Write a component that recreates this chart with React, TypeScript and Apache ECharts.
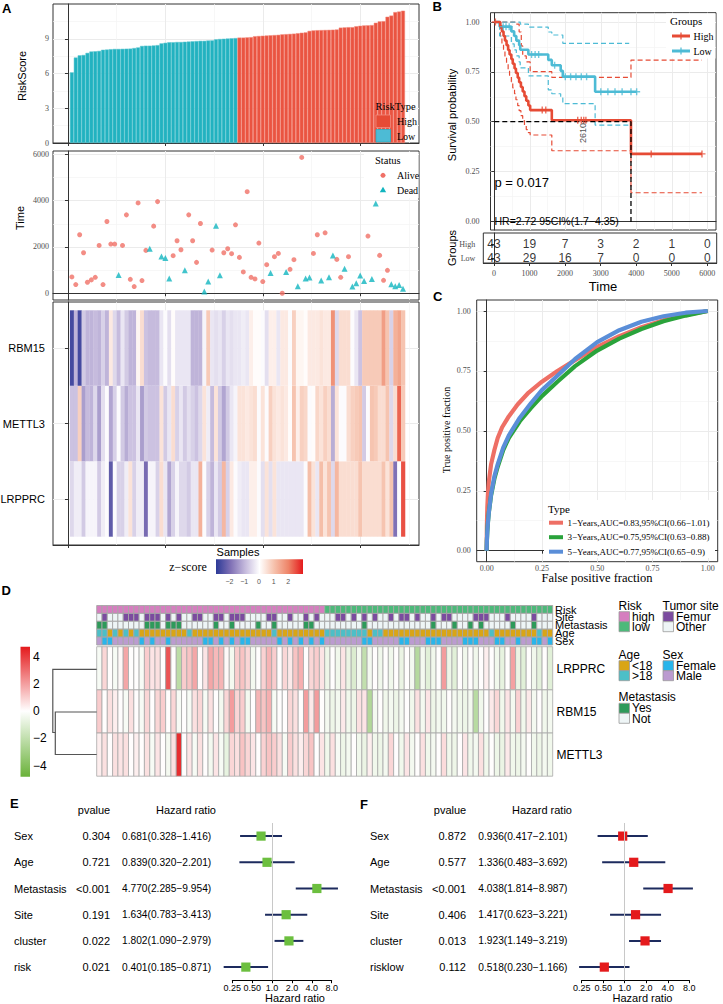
import React, { useEffect, useRef } from 'react';
import * as echarts from 'echarts';

const SERIF = 'Liberation Serif';
const SANS = 'Liberation Sans';

// ---------------- Panel A data ----------------
const lowRiskScores = [6.1, 7.38, 7.57, 7.6, 7.78, 7.9, 7.92, 7.95, 8.05, 8.07, 8.1, 8.12, 8.12, 8.13, 8.14, 8.15, 8.2, 8.25, 8.38, 8.4, 8.4, 8.42, 8.45, 8.6, 8.65, 8.7, 8.7, 8.72, 8.72, 8.74, 8.76, 8.78, 8.8, 8.82, 8.82, 8.85, 8.86, 8.95, 8.98, 9.0, 9.02, 9.04, 9.06];
const highRiskScores = [9.1, 9.1, 9.12, 9.14, 9.22, 9.24, 9.26, 9.28, 9.3, 9.32, 9.34, 9.38, 9.4, 9.42, 9.44, 9.48, 9.52, 9.55, 9.68, 9.72, 9.74, 9.75, 9.76, 9.77, 9.78, 9.8, 9.96, 9.98, 10.0, 10.0, 10.08, 10.12, 10.15, 10.16, 10.18, 10.38, 10.5, 10.52, 10.9, 11.0, 11.3, 11.35, 11.42];
const survivalTimes = [705, 374, 2524, 1750, 473, 576, 688, 2064, 374, 3096, 2124, 2124, 791, 2064, 3384, 602, 288, 3900, 546, 1850, 1922, 2898, 3956, 1591, 1522, 632, 1621, 2266, 1879, 989, 3384, 2266, 1333, 3010, 73, 503, 1865, 2911, 774, 1750, 1922, 1707, 2954, 1548, 920, 4386, 688, 619, 2167, 503, 1234, 877, 1578, 1720, 0, 920, 1032, 1449, 301, 5865, 632, 675, 1720, 2524, 546, 2610, 688, 1634, 1462, 688, 1062, 1578, 288, 430, 761, 533, 2468, 619, 3870, 1634, 559, 989, 387, 301, 361, 189];
const deadSamples = [13, 21, 24, 25, 26, 30, 35, 36, 38, 39, 52, 56, 59, 61, 62, 65, 67, 68, 71, 73, 74, 75, 76, 78, 79, 83, 84, 85, 86];
const heatGenesA = ['LRPPRC', 'METTL3', 'RBM15'];
const lrpprcA = [-0.5, -0.2, -0.2, -0.7, -0.1, -0.1, -0.1, -0.7, -0.2, 0.0, -2.3, 0.0, -0.6, -0.6, -0.2, 0.5, -0.6, -0.2, -0.2, -2.0, -0.1, -0.1, -0.6, 0.6, -0.3, -1.2, -0.6, -0.1, -0.5, -0.5, -0.7, -0.3, -0.3, 1.3, 0.0, -0.6, -1.0, -0.3, -0.7, 1.2, -0.6, 0.4, 0.0, -0.2, -0.3, -0.3, 0.3, 0.3, 0.0, -0.4, 0.5, -0.4, 0.5, -0.3, -0.3, -0.3, -0.3, -0.3, -0.3, -0.3, 0.0, 1.1, 0.5, -0.3, 1.1, 0.5, 1.0, -0.5, 1.2, 0.6, 0.6, 0.6, 0.6, 0.6, 1.0, 0.6, 0.6, 0.6, 0.6, 0.6, 1.0, 0.5, 1.0, -1.9, 0.0, 2.5];
const mettl3A = [-0.8, -0.8, 0.8, -1.3, -0.9, -1.0, -0.5, -1.3, -0.4, 0.0, -1.2, -0.6, 0.0, -0.7, -1.1, -0.8, -0.8, -0.3, -1.3, -0.7, -0.8, -0.8, -0.8, 0.5, -0.7, -0.3, 0.6, -0.6, -0.3, -0.7, -0.4, -0.6, -0.8, -0.5, 0.5, -0.2, -0.9, 0.5, -0.7, -1.2, -0.7, -0.3, -0.1, 0.5, 0.5, 0.4, 0.5, 0.6, 0.0, 0.5, 0.0, 0.8, 0.5, 0.4, 0.5, 0.4, 0.1, 1.0, 0.3, 0.8, 0.7, 0.0, 0.1, 0.7, 0.5, 0.8, 0.6, -1.1, 0.5, 0.0, 0.0, 0.6, 0.8, 0.9, 1.0, -0.7, 0.0, 1.0, 0.9, 0.6, 0.6, 1.0, -0.5, 0.6, 2.3, 0.9];
const rbm15A = [-2.6, -1.0, -2.6, -0.7, -1.0, -1.0, -0.9, -1.0, -0.6, -1.0, 0.4, -0.5, -0.9, -0.3, -0.7, -1.0, -1.0, 0.2, 0.6, -0.8, -0.9, -0.9, -0.9, -0.3, 0.0, -0.4, 0.1, -0.3, -0.3, -0.3, -0.3, -1.0, -1.0, -1.0, -0.1, 0.9, -0.3, -0.4, -0.3, -0.6, -0.3, -0.4, -0.3, -0.3, -0.2, -0.3, 0.3, 0.1, 0.1, 0.0, -0.4, 0.3, 0.3, -0.3, 0.4, 0.4, 0.0, 0.8, 0.2, 0.2, 0.1, 0.4, 0.4, 0.4, 0.5, 0.4, 0.4, 1.8, -0.5, 0.6, 0.6, 0.6, 0.0, -0.3, -0.8, 0.9, 0.9, 0.9, 0.9, 0.9, 1.6, 1.0, -0.6, 1.3, 1.5, 1.0];
const sampleTicks = [0, 25, 50, 75];
const sampleMinor = [12.5, 37.5, 62.5, 87.5];
const riskTicks = [0, 3, 6, 9];
const riskMinor = [1.5, 4.5, 7.5, 10.5];
const timeTicks = [0, 2000, 4000, 6000];
const timeMinor = [1000, 3000, 5000];
const zTickLabels = ['−2', '−1', '0', '1', '2'];
const zColorsA = ['#2C3A97', '#7F70B5', '#C4B9DC', '#FFFFFF', '#F6C2AD', '#EE8468', '#E41A1C'];

// ---------------- Panel B data ----------------
const highT = [0, 170, 215, 260, 300, 345, 390, 430, 480, 520, 570, 610, 660, 700, 750, 800, 850, 900, 960, 1010, 1620, 3850, 5850];
const highS = [1, 0.977, 0.953, 0.93, 0.907, 0.884, 0.86, 0.837, 0.814, 0.791, 0.767, 0.744, 0.721, 0.698, 0.674, 0.651, 0.628, 0.605, 0.581, 0.558, 0.507, 0.338, 0.338];
const highLower = [1, 0.93, 0.89, 0.86, 0.82, 0.79, 0.76, 0.73, 0.7, 0.67, 0.64, 0.61, 0.58, 0.555, 0.53, 0.505, 0.48, 0.46, 0.445, 0.433, 0.354, 0.143, 0.143];
const highUpT = [0, 600, 700, 760, 800, 900, 1010, 1620, 3850, 5850];
const highUpS = [1, 0.99, 0.95, 0.88, 0.83, 0.8, 0.751, 0.722, 0.809, 0.809];
const lowT = [0, 150, 480, 560, 620, 700, 730, 960, 1520, 1620, 1870, 1930, 2840, 4010];
const lowS = [1, 0.977, 0.953, 0.93, 0.907, 0.884, 0.861, 0.837, 0.81, 0.783, 0.755, 0.726, 0.65, 0.65];
const lowLoT = [0, 150, 480, 560, 620, 700, 730, 960, 1520, 1620, 1870, 1930, 2840, 3820];
const lowLoS = [1, 0.93, 0.89, 0.86, 0.83, 0.8, 0.77, 0.73, 0.66, 0.64, 0.62, 0.59, 0.483, 0.483];
const lowUpT = [0, 730, 960, 1520, 1620, 1930, 3800];
const lowUpS = [1, 0.99, 0.975, 0.95, 0.935, 0.893, 0.893];
const highCensor = [[30, 1], [1350, 0.558], [1450, 0.558], [2350, 0.507], [2450, 0.507], [2520, 0.507], [2580, 0.507], [4420, 0.338], [5850, 0.338]];
const lowCensor = [[250, 0.977], [330, 0.977], [420, 0.977], [1050, 0.837], [1150, 0.837], [1250, 0.837], [1700, 0.783], [2000, 0.726], [2150, 0.726], [2300, 0.726], [2450, 0.726], [2600, 0.726], [3000, 0.65], [3200, 0.65], [3400, 0.65], [3600, 0.65], [3850, 0.65], [4010, 0.65]];
const medianPath = [[0, 0.5], [3850, 0.5], [3850, -0.007]];
const kmTicks = [0, 1000, 2000, 3000, 4000, 5000, 6000];
const kmMinor = [500, 1500, 2500, 3500, 4500, 5500];
const survTicks = [0, 0.25, 0.5, 0.75, 1];
const survMinor = [0.125, 0.375, 0.625, 0.875];
const atRiskHigh = [43, 19, 7, 3, 2, 1, 0];
const atRiskLow = [43, 29, 16, 7, 0, 0, 0];

// ---------------- Panel C data ----------------
const roc1 = [[0, 0], [0.001, 0.1], [0.003, 0.18], [0.006, 0.24], [0.01, 0.29], [0.02, 0.36], [0.035, 0.42], [0.05, 0.47], [0.07, 0.515], [0.1, 0.56], [0.14, 0.61], [0.19, 0.66], [0.25, 0.705], [0.32, 0.75], [0.4, 0.795], [0.5, 0.85], [0.6, 0.895], [0.7, 0.932], [0.8, 0.962], [0.9, 0.984], [1, 1]];
const roc3 = [[0, 0], [0.001, 0.04], [0.003, 0.08], [0.006, 0.12], [0.01, 0.16], [0.02, 0.23], [0.035, 0.3], [0.05, 0.35], [0.075, 0.42], [0.1, 0.47], [0.15, 0.54], [0.2, 0.595], [0.25, 0.645], [0.32, 0.705], [0.4, 0.77], [0.5, 0.835], [0.6, 0.885], [0.7, 0.925], [0.8, 0.957], [0.9, 0.981], [1, 1]];
const roc5 = [[0, 0], [0.001, 0.04], [0.003, 0.08], [0.006, 0.12], [0.01, 0.16], [0.02, 0.235], [0.035, 0.31], [0.05, 0.36], [0.075, 0.43], [0.1, 0.48], [0.15, 0.555], [0.2, 0.615], [0.25, 0.67], [0.32, 0.73], [0.4, 0.8], [0.5, 0.87], [0.6, 0.92], [0.7, 0.955], [0.8, 0.978], [0.9, 0.993], [1, 1]];
const rocNames = ['1−Years,AUC=0.83,95%CI(0.66−1.01)', '3−Years,AUC=0.75,95%CI(0.63−0.88)', '5−Years,AUC=0.77,95%CI(0.65−0.9)'];
const rocColors = ['#EE6F65', '#2AA33B', '#5A8ED8'];
const rocTicks = [0, 0.25, 0.5, 0.75, 1];
const rocMinor = [0.125, 0.375, 0.625, 0.875];

// ---------------- Panel D data ----------------
const highRiskCount = 43;
const femurSamples = [2, 6, 7, 8, 10, 11, 12, 14, 16, 19, 20, 23, 24, 26, 27, 28, 33, 34, 37, 40, 42, 46, 47, 49, 51, 53, 56, 58, 59, 61, 64, 66, 67, 72, 73, 74, 78, 83];
const metastasisSamples = [1, 2, 10, 11, 12, 14, 15, 16, 23, 26, 31, 34, 40, 41, 51, 64, 68, 71, 73, 79, 83];
const over18Samples = [1, 2, 4, 6, 8, 18, 34, 44, 45, 46, 47, 48, 49, 50, 51, 53, 54, 75, 84];
const femaleSamples = [2, 3, 9, 11, 14, 21, 22, 24, 26, 28, 29, 35, 37, 39, 41, 43, 51, 52, 58, 59, 63, 64, 65, 70, 71, 72, 76, 77, 80, 83, 84, 86];
const annotRows = ['Risk', 'Site', 'Metastasis', 'Age', 'Sex'];
const annotColors = [['#D57EBF', '#4DB97A'], ['#EEF5F6', '#7B4B9F'], ['#EEF5F6', '#2E9A5A'], ['#D9A516', '#4CBFC7'], ['#BB9BD0', '#29B5EB']];
const heatGenesD = ['LRPPRC', 'RBM15', 'METTL3'];
const dLrpprc = [-0.3, 0.8, 0, -0.3, 0.1, 1.8, 0, 0, -0.3, 1.0, 0.5, 0.6, 0, 3.5, 0, -2.2, 1.0, 1.2, 1.8, 0, 0.5, 1.8, 1.4, 1.5, 0.1, -0.4, 1.0, 1.2, 0.8, -0.4, 0, 0.9, 1.5, 1.0, 0, 0.8, 0.4, 1.2, 1.6, 0, 0.8, 1.0, 0.5, -0.6, 0, -0.5, 0.5, -0.7, -1.2, -0.4, -2.0, -0.4, 0, -0.5, 0, -0.5, 0, -0.7, 0, -0.4, -2.4, -0.4, -1.0, -0.5, 0, 2.0, -0.6, -1.0, 0, -0.5, 0, -0.5, 0, 0.3, 0, -0.5, -0.8, 0, 1.9, -0.7, -1.0, 0, -0.5, -0.9, 0, -1.0];
const dRbm15 = [1.0, 0, 0.6, 0.3, 0, -0.3, 0.6, 0, -0.3, 0.8, 0, 0.8, 1.0, 0, 0.8, -0.3, 0, -0.3, 0.6, 0.8, -0.3, 0.6, 0, -0.4, 0.8, 2.0, 0.8, 1.0, -0.4, 0, 1.5, 1.2, 1.6, -0.3, 0, 0, 0.8, 0.6, 0, 2.0, 0.4, 2.0, 0, -0.4, -0.6, -0.4, 0.4, -0.5, -0.6, 0.6, 0.5, -2.5, -0.4, 0, -0.5, -0.4, -0.6, -0.4, 0, -0.5, 0.6, -0.4, 0.5, -0.6, -0.4, -0.5, 0, -0.4, -0.5, -0.6, -0.4, -2.3, -0.5, 0, 0.4, 0.8, -0.5, 0.5, -0.4, 0.9, -0.5, 0.4, -0.4, 0, -0.5, -0.4];
const dMettl3 = [0.3, 0.6, 0, 0.6, 0.5, 0.6, 0, 0.3, 0, 0.6, -0.3, 0.5, 0, -0.4, 0.6, 4.3, 0, 0.5, -0.3, 0.6, 0, -0.4, 0.5, -0.3, -0.8, 0.8, 0.6, 1.2, 0.8, 0.5, 0, 0.9, 1.2, 1.0, 0.6, -0.3, 1.0, 0.6, 0.3, 0.8, 1.2, 0, 0.5, -0.5, 0.6, -0.3, -0.6, -0.4, 0, -0.5, -0.7, 0.3, -0.5, -0.6, -0.4, 0.8, 0, -0.5, 0.5, -0.4, 0, 0.6, -0.5, -0.4, 0, 0.7, -0.5, -0.6, 0, 0.5, -0.5, -0.4, 0.6, -0.5, 0, -0.6, -0.7, 0.4, -0.5, -0.6, -0.4, 0, -0.5, -0.6, -0.4, -0.5];
const dColorTicks = ['4', '2', '0', '−2', '−4'];
const zColorsD = ['#6AB23A', '#FFFFFF', '#E41A1C'];

// ---------------- Panels E / F data ----------------
const eVars = ['Sex', 'Age', 'Metastasis', 'Site', 'cluster', 'risk'];
const eP = ['0.304', '0.721', '<0.001', '0.191', '0.022', '0.021'];
const eHR = [0.681, 0.839, 4.77, 1.634, 1.802, 0.401];
const eLo = [0.328, 0.32, 2.285, 0.783, 1.09, 0.185];
const eHi = [1.416, 2.201, 9.954, 3.413, 2.979, 0.871];
const fVars = ['Sex', 'Age', 'Metastasis', 'Site', 'cluster', 'risklow'];
const fP = ['0.872', '0.577', '<0.001', '0.406', '0.013', '0.112'];
const fHR = [0.936, 1.336, 4.038, 1.417, 1.923, 0.518];
const fLo = [0.417, 0.483, 1.814, 0.623, 1.149, 0.23];
const fHi = [2.101, 3.692, 8.987, 3.221, 3.219, 1.166];
const hrTickLabels: Record<string, string> = { '-2': '0.25', '-1': '0.50', '0': '1.0', '1': '2.0', '2': '4.0', '3': '8.0' };

// ---------------- helpers ----------------
function majorAxis(grid: number, min: number, max: number, ticks: number[], o: any = {}) {
  return {
    type: 'value', gridIndex: grid, min, max, position: o.position, inverse: !!o.inverse,
    axisLine: { show: o.line !== false, lineStyle: { color: '#333', width: 1 } },
    axisTick: { show: o.tick !== false, customValues: ticks, length: 3, lineStyle: { color: '#333' } },
    axisLabel: { show: !!o.fmt, customValues: ticks, formatter: o.fmt, fontFamily: o.font || SERIF, fontSize: o.size || 8, color: o.color || '#4D4D4D', margin: o.margin ?? 4, hideOverlap: false },
    splitLine: { show: o.split !== false, lineStyle: { color: '#EBEBEB', width: 1 } },
  };
}
function minorAxis(grid: number, min: number, max: number, ticks: number[], position: string) {
  return {
    type: 'value', gridIndex: grid, min, max, position,
    axisLine: { show: false }, axisTick: { show: false, customValues: ticks }, axisLabel: { show: false },
    splitLine: { show: true, lineStyle: { color: '#F3F3F3', width: 0.7 } },
  };
}
function hiddenAxis(grid: number, min: number, max: number, inverse = false) {
  return { type: 'value', gridIndex: grid, min, max, inverse, show: false };
}
function txt(text: string, x: number, y: number, o: any = {}) {
  const align = o.align || 'left';
  const va = o.va || 'middle';
  return {
    type: 'text', x, y, rotation: o.rot || 0, z: 100, silent: true,
    style: { text, fontSize: o.size || 11, fontFamily: o.font || SANS, fontWeight: o.weight || 'normal', fill: o.fill || '#000', textAlign: align, textVerticalAlign: va, align, verticalAlign: va },
  };
}
function box(x: number, y: number, w: number, h: number, fill: string, stroke = 'none', lw = 0) {
  return { type: 'rect', z: 100, silent: true, shape: { x, y, width: w, height: h }, style: { fill, stroke, lineWidth: lw } };
}
function seg(x1: number, y1: number, x2: number, y2: number, stroke: string, lw: number) {
  return { type: 'line', z: 100, silent: true, shape: { x1, y1, x2, y2 }, style: { stroke, lineWidth: lw } };
}
const pair = (t: number[], s: number[]) => t.map((v, i) => [v, s[i]]);

function buildOption() {
  const N = lowRiskScores.length + highRiskScores.length;
  const panel = { show: true, borderColor: '#333', borderWidth: 1, backgroundColor: '#fff', containLabel: false, outerBoundsMode: 'none' };
  const plain = { show: false, containLabel: false, outerBoundsMode: 'none' };
  const grid = [
    { ...panel, left: 53, top: 4, width: 366, height: 139 },
    { ...panel, left: 53, top: 151, width: 366, height: 149 },
    { ...panel, left: 53, top: 302, width: 366, height: 243 },
    { ...panel, left: 490.5, top: 12.7, width: 225.5, height: 217.3 },
    { ...panel, left: 483.3, top: 233, width: 233.4, height: 30 },
    { ...panel, left: 476.7, top: 300, width: 241, height: 261.7 },
    { ...plain, left: 96.7, top: 605.5, width: 456, height: 39.5 },
    { ...plain, left: 96.7, top: 646.7, width: 456, height: 129.5 },
    { ...plain, left: 232.3, top: 823, width: 99.4, height: 157.2 },
    { ...plain, left: 581.7, top: 823, width: 107.6, height: 157.2 },
  ];
  const sMin = -3.84, sMax = 90.1;
  const kmMin = -107, kmMax = 6245;
  const tbMin = -301, tbMax = 6265;
  const logAxis = (g: number) => ({
    type: 'log', logBase: 2, gridIndex: g, min: 0.25, max: 8, splitNumber: 5,
    axisLine: { show: true, lineStyle: { color: '#000', width: 1 } },
    axisTick: { show: true, length: 3, lineStyle: { color: '#000' } },
    axisLabel: { fontFamily: SANS, fontSize: 9, color: '#000', margin: 3, hideOverlap: false, formatter: (v: number) => hrTickLabels[String(Math.round(Math.log2(v)))] ?? '' },
    splitLine: { show: false }, minorSplitLine: { show: false },
  });
  const xAxis = [
    majorAxis(0, sMin, sMax, sampleTicks),
    majorAxis(1, sMin, sMax, sampleTicks),
    majorAxis(2, sMin, sMax, sampleTicks),
    majorAxis(3, kmMin, kmMax, kmTicks, { tick: false }),
    majorAxis(4, tbMin, tbMax, kmTicks, { split: false, fmt: (v: number) => String(v), margin: 6 }),
    majorAxis(5, -0.045, 1.045, rocTicks, { fmt: (v: number) => v.toFixed(2), margin: 3 }),
    hiddenAxis(6, 0.5, N + 0.5),
    hiddenAxis(7, 0.5, N + 0.5),
    logAxis(8),
    logAxis(9),
    minorAxis(0, sMin, sMax, sampleMinor, 'top'),
    minorAxis(1, sMin, sMax, sampleMinor, 'top'),
    minorAxis(2, sMin, sMax, sampleMinor, 'top'),
    minorAxis(3, kmMin, kmMax, kmMinor, 'top'),
    minorAxis(5, -0.045, 1.045, rocMinor, 'top'),
  ];
  const yAxis = [
    majorAxis(0, 0, 12, riskTicks, { fmt: (v: number) => String(v) }),
    majorAxis(1, -292, 6142, timeTicks, { fmt: (v: number) => String(v) }),
    majorAxis(2, 0.39, 3.61, [1, 2, 3], { fmt: (v: number) => heatGenesA[v - 1], font: SANS, size: 11, color: '#000', margin: 8 }),
    majorAxis(3, -0.044, 1.047, survTicks, { fmt: (v: number) => v.toFixed(2), margin: 11 }),
    majorAxis(4, 0.643, 2.786, [1, 2], { split: false, fmt: (v: number) => (v === 2 ? 'High' : 'Low'), margin: 8 }),
    majorAxis(5, -0.046, 1.046, rocTicks, { fmt: (v: number) => v.toFixed(2), margin: 6 }),
    hiddenAxis(6, -0.5, annotRows.length - 0.5, true),
    hiddenAxis(7, -0.5, heatGenesD.length - 0.5, true),
    { type: 'category', gridIndex: 8, data: eVars, inverse: true, show: false },
    { type: 'category', gridIndex: 9, data: fVars, inverse: true, show: false },
    minorAxis(0, 0, 12, riskMinor, 'right'),
    minorAxis(1, -292, 6142, timeMinor, 'right'),
    minorAxis(3, -0.044, 1.047, survMinor, 'right'),
    minorAxis(5, -0.046, 1.046, rocMinor, 'right'),
  ];

  const series: any[] = [];
  // A: risk score bars
  const scores = [...lowRiskScores, ...highRiskScores];
  series.push({
    type: 'bar', xAxisIndex: 0, yAxisIndex: 0, barWidth: 3.9,
    data: scores.map((v, i) => ({
      value: [i + 1, v],
      itemStyle: i < lowRiskScores.length
        ? { color: '#22B2C0', borderColor: '#5CC6D0', borderWidth: 0.5 }
        : { color: '#EA5441', borderColor: '#F38A7C', borderWidth: 0.5 },
    })),
  });
  // A: survival time scatter
  const isDead = (i: number) => deadSamples.includes(i);
  series.push({
    type: 'scatter', xAxisIndex: 1, yAxisIndex: 1, symbol: 'circle', symbolSize: 5,
    itemStyle: { color: '#F07167' },
    data: survivalTimes.map((t, i) => [i + 1, t]).filter((d) => !isDead(d[0])),
  });
  series.push({
    type: 'scatter', xAxisIndex: 1, yAxisIndex: 1, symbol: 'triangle', symbolSize: 6,
    itemStyle: { color: '#12B5BF' },
    data: survivalTimes.map((t, i) => [i + 1, t]).filter((d) => isDead(d[0])),
  });
  // A: heatmap
  const heatA: number[][] = [];
  [lrpprcA, mettl3A, rbm15A].forEach((row, r) => row.forEach((z, c) => heatA.push([c + 1, r + 1, z])));
  const heatASeries = series.length;
  series.push({
    type: 'custom', xAxisIndex: 2, yAxisIndex: 2, data: heatA, encode: { x: 0, y: 1 },
    renderItem: (_p: any, api: any) => {
      const x = api.value(0), r = api.value(1);
      const a = api.coord([x - 0.5, r + 0.5]);
      const b = api.coord([x + 0.5, r - 0.5]);
      return { type: 'rect', shape: { x: a[0], y: a[1], width: b[0] - a[0] + 0.3, height: b[1] - a[1] }, style: { fill: api.visual('color') } };
    },
  });

  // B: Kaplan-Meier
  const km = (data: number[][], color: string, width: number, dashed: boolean, z = 2) => ({
    type: 'line', xAxisIndex: 3, yAxisIndex: 3, data, step: 'end', symbol: 'none', z, silent: true,
    lineStyle: { color, width, type: dashed ? [5, 3] : 'solid' },
  });
  series.push(km(pair(highT, highLower), '#E64B35', 1.2, true));
  series.push(km(pair(highUpT, highUpS), '#E64B35', 1.2, true));
  series.push(km(pair(lowLoT, lowLoS), '#4DBBD5', 1.2, true));
  series.push(km(pair(lowUpT, lowUpS), '#4DBBD5', 1.2, true));
  series.push({ type: 'line', xAxisIndex: 3, yAxisIndex: 3, data: medianPath, symbol: 'none', z: 4, lineStyle: { color: '#000', width: 1.3, type: [5, 3] } });
  series.push(km(pair(lowT, lowS), '#4DBBD5', 2.6, false, 3));
  series.push(km(pair(highT, highS), '#E64B35', 2.6, false, 3));
  const plus = 'path://M4,0H6V4H10V6H6V10H4V6H0V4H4Z';
  series.push({ type: 'scatter', xAxisIndex: 3, yAxisIndex: 3, symbol: plus, symbolSize: 7, z: 5, itemStyle: { color: '#4DBBD5' }, data: lowCensor });
  series.push({ type: 'scatter', xAxisIndex: 3, yAxisIndex: 3, symbol: plus, symbolSize: 7, z: 5, itemStyle: { color: '#E64B35' }, data: highCensor });
  // B: risk table
  series.push({
    type: 'scatter', xAxisIndex: 4, yAxisIndex: 4, symbolSize: 1, itemStyle: { color: 'rgba(0,0,0,0)' },
    label: { show: true, position: 'inside', formatter: (p: any) => String(p.value[2]), fontFamily: SANS, fontSize: 12, color: '#000' },
    data: [...kmTicks.map((t, i) => [t, 2, atRiskHigh[i]]), ...kmTicks.map((t, i) => [t, 1, atRiskLow[i]])],
  });

  // C: ROC
  [roc1, roc3, roc5].forEach((d, k) => {
    series.push({ type: 'line', xAxisIndex: 5, yAxisIndex: 5, data: d, symbol: 'none', smooth: false, silent: true, z: 2 + k, lineStyle: { color: rocColors[k], width: 4.2, join: 'round' } });
  });

  // D: annotation tracks
  const annotData: number[][] = [];
  for (let c = 1; c <= N; c++) {
    annotData.push([c, 0, c <= highRiskCount ? 0 : 1]);
    annotData.push([c, 1, femurSamples.includes(c) ? 1 : 0]);
    annotData.push([c, 2, metastasisSamples.includes(c) ? 1 : 0]);
    annotData.push([c, 3, over18Samples.includes(c) ? 1 : 0]);
    annotData.push([c, 4, femaleSamples.includes(c) ? 1 : 0]);
  }
  series.push({
    type: 'custom', xAxisIndex: 6, yAxisIndex: 6, data: annotData, encode: { x: 0, y: 1 },
    renderItem: (_p: any, api: any) => {
      const x = api.value(0), r = api.value(1), v = api.value(2);
      const a = api.coord([x - 0.5, r - 0.5]);
      const b = api.coord([x + 0.5, r + 0.5]);
      return { type: 'rect', shape: { x: a[0], y: a[1], width: b[0] - a[0], height: b[1] - a[1] }, style: { fill: annotColors[r][v], stroke: '#A6A6A6', lineWidth: 0.9 } };
    },
  });
  // D: heatmap
  const heatD: number[][] = [];
  [dLrpprc, dRbm15, dMettl3].forEach((row, r) => row.forEach((z, c) => heatD.push([c + 1, r, z])));
  const heatDSeries = series.length;
  series.push({
    type: 'custom', xAxisIndex: 7, yAxisIndex: 7, data: heatD, encode: { x: 0, y: 1 },
    renderItem: (_p: any, api: any) => {
      const x = api.value(0), r = api.value(1);
      const a = api.coord([x - 0.5, r - 0.5]);
      const b = api.coord([x + 0.5, r + 0.5]);
      return { type: 'rect', shape: { x: a[0], y: a[1], width: b[0] - a[0], height: b[1] - a[1] }, style: { fill: api.visual('color'), stroke: '#A8A8A8', lineWidth: 0.8 } };
    },
  });

  // E / F forest plots
  const forest = (xi: number, vars: string[], ps: string[], hr: number[], lo: number[], hi: number[], color: string, cols: number[]) => ({
    type: 'custom', xAxisIndex: xi, yAxisIndex: xi, clip: false,
    data: vars.map((_, i) => [hr[i], i, lo[i], hi[i]]), encode: { x: 0, y: 1 },
    renderItem: (p: any, api: any) => {
      const i = p.dataIndex;
      const c = api.coord([hr[i], i]);
      const a = api.coord([lo[i], i]);
      const b = api.coord([hi[i], i]);
      const y = c[1];
      const t = (text: string, x: number, align: string, size: number) => ({
        type: 'text', x, y, style: { text, fontSize: size, fontFamily: SANS, fill: '#000', textAlign: align, textVerticalAlign: 'middle', align, verticalAlign: 'middle' },
      });
      const hrText = `${hr[i].toFixed(3)}(${lo[i].toFixed(3)}−${hi[i].toFixed(3)})`;
      return {
        type: 'group', children: [
          { type: 'line', shape: { x1: a[0], y1: y, x2: b[0], y2: y }, style: { stroke: '#1D2B5E', lineWidth: 2 } },
          { type: 'rect', shape: { x: c[0] - 4.6, y: y - 4.6, width: 9.2, height: 9.2 }, style: { fill: color } },
          t(vars[i], cols[0], 'left', 11),
          t(ps[i], cols[1], 'right', 11),
          t(hrText, cols[2], 'left', 10.2),
        ],
      };
    },
    markLine: { silent: true, symbol: 'none', label: { show: false }, lineStyle: { color: '#C8C8C8', type: 'solid', width: 1 }, data: [{ xAxis: 1 }] },
  });
  series.push(forest(8, eVars, eP, eHR, eLo, eHi, '#6CBF3F', [14, 110, 122]));
  series.push(forest(9, fVars, fP, fHR, fLo, fHi, '#E41A1C', [370, 466, 478.3]));

  const visualMap = [
    { type: 'continuous', show: false, seriesIndex: heatASeries, dimension: 2, min: -2.9, max: 3.0, inRange: { color: zColorsA } },
    { type: 'continuous', show: false, seriesIndex: heatDSeries, dimension: 2, min: -4.8, max: 4.7, inRange: { color: zColorsD } },
  ];

  // graphic: titles, legends, colour bars, dendrogram
  const g: any[] = [];
  // panel letters
  g.push(txt('A', 2, 8.5, { size: 13, weight: 'bold' }));
  g.push(txt('B', 432.5, 6, { size: 13, weight: 'bold' }));
  g.push(txt('C', 433, 296, { size: 13, weight: 'bold' }));
  g.push(txt('D', 1.5, 590.5, { size: 13, weight: 'bold' }));
  g.push(txt('E', 10, 803.5, { size: 13, weight: 'bold' }));
  g.push(txt('F', 360, 804, { size: 13, weight: 'bold' }));
  // A axis titles
  g.push(txt('RiskScore', 22, 76, { rot: Math.PI / 2, align: 'center', size: 11 }));
  g.push(txt('Time', 20, 218, { rot: Math.PI / 2, align: 'center', size: 11 }));
  g.push(txt('Samples', 238, 552, { align: 'center', size: 11 }));
  // A legends
  g.push(txt('RiskType', 375.5, 106.5, { font: SERIF, size: 10.5 }));
  g.push(box(376, 115, 14.5, 12.5, '#E64B35', '#F08A7D', 0.8));
  g.push(txt('High', 397, 121.5, { font: SERIF, size: 10 }));
  g.push(box(376, 129.5, 14.5, 12.5, '#4DBBD5', '#2AAFC0', 0.8));
  g.push(txt('Low', 397, 136, { font: SERIF, size: 10 }));
  g.push(box(364, 152, 54.5, 46, '#FFFFFF'));
  g.push(txt('Status', 375, 160, { font: SERIF, size: 10.5 }));
  g.push({ type: 'circle', z: 101, silent: true, shape: { cx: 383, cy: 175.3, r: 2.5 }, style: { fill: '#F07167' } });
  g.push(txt('Alive', 397, 175.3, { font: SERIF, size: 10 }));
  g.push({ type: 'polygon', z: 101, silent: true, shape: { points: [[383, 186.8], [386.2, 192.2], [379.8, 192.2]] }, style: { fill: '#12B5BF' } });
  g.push(txt('Dead', 397, 190, { font: SERIF, size: 10 }));
  // A colour bar
  g.push(txt('z−score', 188, 567, { font: SERIF, size: 12, align: 'center' }));
  g.push({
    type: 'rect', z: 100, silent: true, shape: { x: 216, y: 559.3, width: 87, height: 14.7 },
    style: { fill: { type: 'linear', x: 0, y: 0, x2: 1, y2: 0, colorStops: zColorsA.map((c, i) => ({ offset: i / (zColorsA.length - 1), color: c })) } },
  });
  zTickLabels.forEach((s, i) => g.push(txt(s, 229.5 + i * 14.7, 581, { size: 7, align: 'center', fill: '#555' })));

  // B titles / legend / annotations
  g.push(txt('Survival probability', 451.5, 115, { rot: Math.PI / 2, align: 'center', size: 11 }));
  g.push(txt('Groups', 451.5, 248, { rot: Math.PI / 2, align: 'center', size: 11 }));
  g.push(txt('Time', 603, 286.5, { align: 'center', size: 13 }));
  g.push(box(666, 13.5, 49.5, 45, '#FFFFFF'));
  g.push(txt('Groups', 670, 21, { font: SERIF, size: 11 }));
  g.push(seg(672, 36, 690, 36, '#E64B35', 3));
  g.push(seg(681, 32.5, 681, 39.5, '#E64B35', 1.2));
  g.push(txt('High', 693.5, 36.5, { font: SERIF, size: 10 }));
  g.push(seg(672, 51, 690, 51, '#4DBBD5', 3));
  g.push(seg(681, 47.5, 681, 54.5, '#4DBBD5', 1.2));
  g.push(txt('Low', 693.5, 51.5, { font: SERIF, size: 10 }));
  g.push(txt('p = 0.017', 494.5, 182.5, { size: 13 }));
  g.push(txt('HR=2.72 95CI%(1.7−4.35)', 494.5, 221, { size: 10.5 }));
  g.push(txt('2610', 583, 133, { rot: Math.PI / 2, align: 'center', size: 9, fill: '#555' }));

  // C titles / legend
  g.push(txt('True positive fraction', 446, 430, { rot: Math.PI / 2, align: 'center', font: SERIF, size: 10 }));
  g.push(txt('False positive fraction', 597, 578, { align: 'center', font: SERIF, size: 12.5 }));
  g.push(box(544, 500, 171, 58, '#FFFFFF'));
  g.push(txt('Type', 548, 508.5, { font: SERIF, size: 11 }));
  rocNames.forEach((s, k) => {
    const y = 522.7 + k * 14.5;
    g.push(seg(549, y, 563, y, rocColors[k], 4));
    g.push(txt(s, 567.5, y, { font: SERIF, size: 9 }));
  });

  // D labels, legends, colour bar and dendrogram
  annotRows.forEach((s, k) => g.push(txt(s, 555, 609.5 + k * 7.9, { size: 11 })));
  heatGenesD.forEach((s, k) => g.push(txt(s, 556.5, 669 + k * 43.1, { size: 12 })));
  const legBox = (x: number, y: number, fill: string) => box(x, y, 10.5, 10, fill, '#9A9A9A', 0.8);
  g.push(txt('Risk', 618.5, 605.5, { size: 12 }));
  g.push(legBox(619, 611.7, annotColors[0][0])); g.push(txt('high', 632, 616.5, { size: 12 }));
  g.push(legBox(619, 621.7, annotColors[0][1])); g.push(txt('low', 632, 626.5, { size: 12 }));
  g.push(txt('Tumor site', 662.5, 605.5, { size: 12 }));
  g.push(legBox(663, 611.7, annotColors[1][1])); g.push(txt('Femur', 676, 616.5, { size: 12 }));
  g.push(legBox(663, 621.7, annotColors[1][0])); g.push(txt('Other', 676, 626.5, { size: 12 }));
  g.push(txt('Age', 618.5, 655, { size: 12 }));
  g.push(legBox(619, 660.7, annotColors[3][0])); g.push(txt('<18', 632, 665.5, { size: 12 }));
  g.push(legBox(619, 670.7, annotColors[3][1])); g.push(txt('>18', 632, 675.5, { size: 12 }));
  g.push(txt('Sex', 662.5, 655, { size: 12 }));
  g.push(legBox(663, 660.7, annotColors[4][1])); g.push(txt('Female', 676, 665.5, { size: 12 }));
  g.push(legBox(663, 670.7, annotColors[4][0])); g.push(txt('Male', 676, 675.5, { size: 12 }));
  g.push(txt('Metastasis', 618.5, 697, { size: 12 }));
  g.push(legBox(619, 703.3, annotColors[2][1])); g.push(txt('Yes', 632, 708.3, { size: 12 }));
  g.push(legBox(619, 713.3, annotColors[2][0])); g.push(txt('Not', 632, 719, { size: 12 }));
  g.push({
    type: 'rect', z: 100, silent: true, shape: { x: 20.5, y: 646.7, width: 9.5, height: 130 },
    style: { fill: { type: 'linear', x: 0, y: 0, x2: 0, y2: 1, colorStops: [{ offset: 0, color: zColorsD[2] }, { offset: 0.495, color: zColorsD[1] }, { offset: 1, color: zColorsD[0] }] } },
  });
  dColorTicks.forEach((s, k) => g.push(txt(s, 33, 656.5 + k * 27.3, { size: 12 })));
  g.push({ type: 'polyline', z: 100, silent: true, shape: { points: [[96.7, 669.3], [52.8, 669.3], [52.8, 732.5], [55.3, 732.5]] }, style: { stroke: '#555', lineWidth: 1.2, fill: 'none' } });
  g.push({ type: 'polyline', z: 100, silent: true, shape: { points: [[96.7, 712], [55.3, 712], [55.3, 754.5], [96.7, 754.5]] }, style: { stroke: '#555', lineWidth: 1.2, fill: 'none' } });

  // E / F headers and axis titles
  g.push(txt('pvalue', 94, 810, { align: 'center', size: 11 }));
  g.push(txt('Hazard ratio', 186, 810, { align: 'center', size: 11 }));
  g.push(txt('Hazard ratio', 295, 998, { align: 'center', size: 11 }));
  g.push(txt('pvalue', 450, 810, { align: 'center', size: 11 }));
  g.push(txt('Hazard ratio', 542, 810, { align: 'center', size: 11 }));
  g.push(txt('Hazard ratio', 642.5, 998, { align: 'center', size: 11 }));

  return {
    animation: false,
    backgroundColor: '#fff',
    textStyle: { fontFamily: SANS },
    grid, xAxis, yAxis, series, visualMap, graphic: g,
  };
}

export default function App() {
  const ref = useRef<HTMLDivElement>(null);
  useEffect(() => {
    const chart = echarts.init(ref.current as HTMLDivElement, null, { renderer: 'svg' });
    chart.setOption(buildOption() as any);
    return () => chart.dispose();
  }, []);
  return <div ref={ref} style={{ position: 'absolute', left: 0, top: 0, width: 723, height: 1004, background: '#fff' }} />;
}
